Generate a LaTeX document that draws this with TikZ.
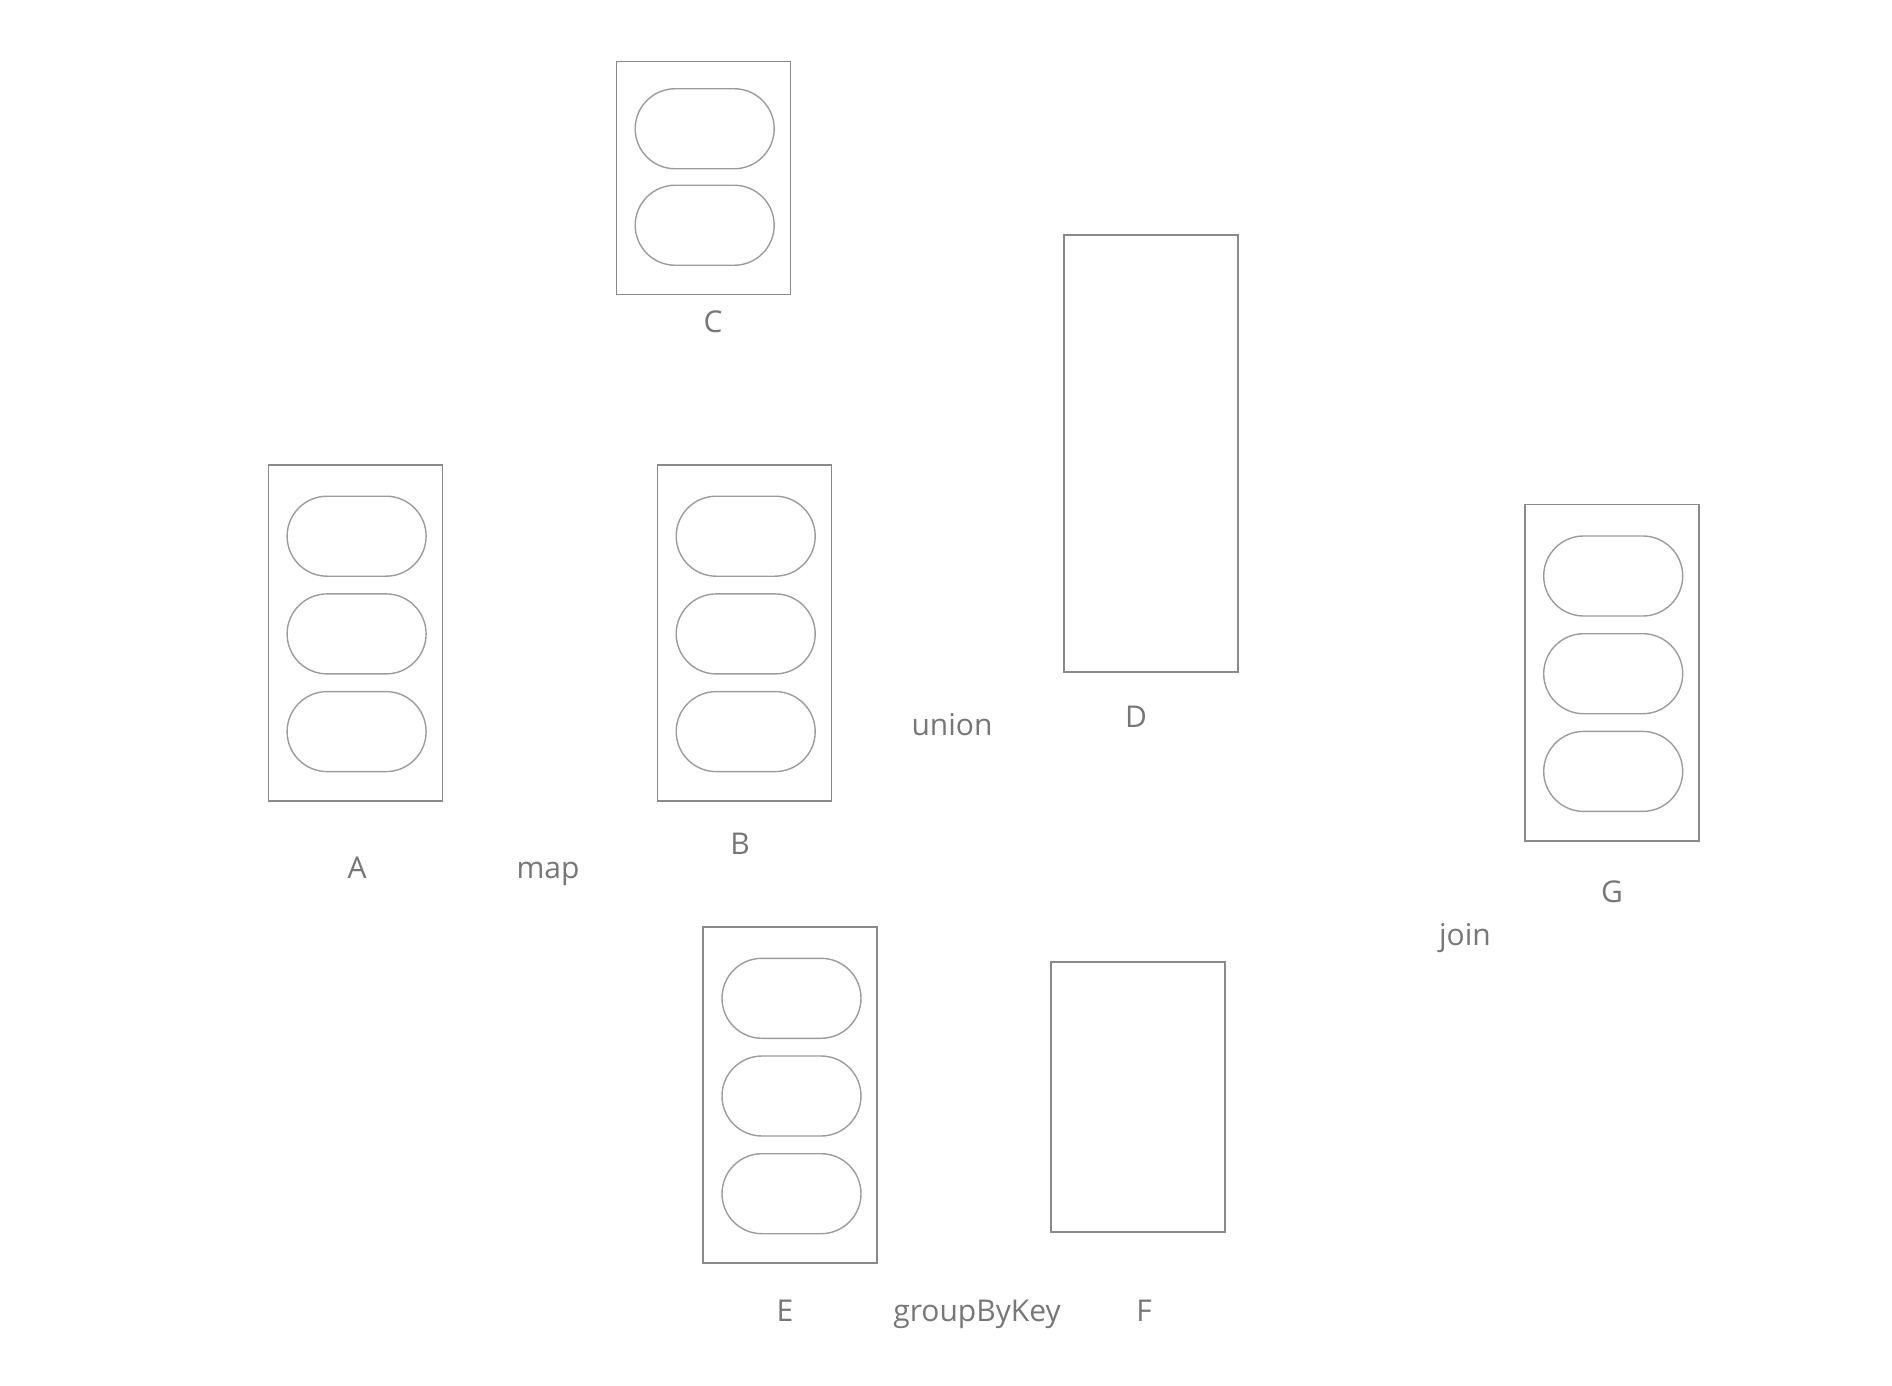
\documentclass[tikz,border=0pt]{standalone}
\usepackage{fontspec}
\setmainfont{Open Sans}
\usetikzlibrary{shapes.misc}
\definecolor{linha}{HTML}{8A8A8A}
\definecolor{pil}{HTML}{9C9C9C}
\definecolor{texto}{HTML}{777777}
\begin{document}
\begin{tikzpicture}[x=0.5pt, y=-0.5pt,
    caixa/.style={draw=linha, line width=0.9pt, minimum width=87pt, inner sep=0pt},
    pilula/.style={rounded rectangle, draw=pil, line width=0.7pt, minimum width=69.5pt, minimum height=40pt, inner sep=0pt},
    rotulo/.style={anchor=base, text=texto, font=\fontsize{15pt}{18pt}\selectfont}]
    \useasboundingbox (0,0) rectangle (1892,1386);
    % Caixas com tres particoes: nome/x/y
    \foreach \nome/\x/\y in {A/355.4/632.9, B/744.5/632.9, G/1612/672.7, E/790.3/1095} {
        \node[caixa, minimum height=168.3pt] (\nome) at (\x,\y) {};
        \foreach \i in {1,2,3}
            \node[pilula] (\nome-\i) at ({\x+1.2},{\y+1+(\i-2)*97.7}) {};
    }
    % Caixa C com duas particoes
    \node[caixa, minimum height=116.5pt] (C) at (703.5,178) {};
    \foreach \i in {1,2}
        \node[pilula] (C-\i) at (704.7,{177+(\i-1.5)*96.5}) {};
    % Caixas vazias
    \node[caixa, minimum height=218.4pt] (D) at (1151,453.7) {};
    \node[caixa, minimum height=135.2pt] (F) at (1138,1096.9) {};
    % Rotulos: texto/x/y
    \foreach \txt/\x/\y [count=\i] in {C/713/332, A/357/878, map/548/878, B/740/854,
        union/952/735, D/1136/727, G/1612/902, join/1465/945,
        E/785/1321, groupByKey/977/1321, F/1144/1321} {
        \node[rotulo] (r\i) at (\x,\y) {\txt};
    }
\end{tikzpicture}
\end{document}
